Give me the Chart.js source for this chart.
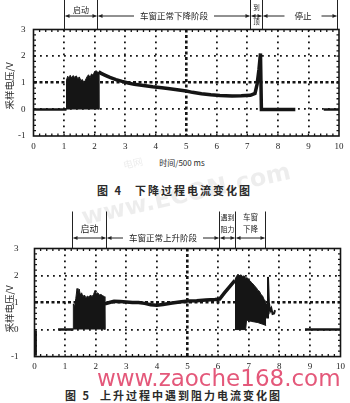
<!DOCTYPE html>
<html>
<head>
<meta charset="utf-8">
<script src="https://cdn.jsdelivr.net/npm/chart.js@4.4.1/dist/chart.umd.min.js"></script>
<style>
  body { margin: 0; background: #fff; width: 350px; height: 403px; overflow: hidden; position: relative; }
  .box { position: absolute; left: 0; width: 350px; }
  #box4 { top: 0; height: 155px; }
  #box5 { top: 200px; height: 178px; }
  .txt { position: absolute; white-space: nowrap; color: #2a2a2a; font-family: "Noto Sans CJK SC", sans-serif; line-height: 1; }
  .ytitle { font-size: 9.5px; transform: translate(-50%, -50%) rotate(-90deg); }
  .cap { font-size: 11px; font-weight: bold; letter-spacing: 2px; transform: translateY(-50%); }
</style>
</head>
<body>
<div class="box" id="box4"><canvas id="fig4"></canvas></div>
<div class="box" id="box5"><canvas id="fig5"></canvas></div>

<div class="txt ytitle" style="left:10px; top:86px;">采样电压/V</div>
<div class="txt ytitle" style="left:10px; top:309px;">采样电压/V</div>
<div class="txt" style="left:182px; top:163px; font-size:8px; transform:translate(-50%,-50%);">时间/500 ms</div>
<div class="txt cap" style="left:97px; top:190px;">图 4</div>
<div class="txt cap" style="left:135px; top:190px;">下降过程电流变化图</div>
<div class="txt cap" style="left:65px; top:395px;">图 5</div>
<div class="txt cap" style="left:100px; top:395px;">上升过程中遇到阻力电流变化图</div>

<div class="txt" style="left:186px; top:194px; font-family:'DejaVu Sans'; font-size:24px; font-weight:bold; color:rgba(0,0,0,0.07); transform:translate(-50%,-50%) rotate(-12.6deg);">www.ECON.com</div>
<div class="txt" style="left:133px; top:163px; font-size:10px; color:rgba(0,0,0,0.08); transform:translate(-50%,-50%) rotate(-12.6deg);">电网</div>
<div class="txt" style="left:97px; top:386px; font-family:'DejaVu Sans'; font-size:23px; color:#e4587a; transform:translateY(-82%);">www.zaoche168.com</div>

<script>
// Axis ticks (same for both figures)
const xTickLabels = ['0', '1', '2', '3', '4', '5', '6', '7', '8', '9', '10'];
const yTickLabels = ['-1', '0', '1', '2', '3'];

// Fig 4: window going down - [time (x500 ms), voltage V]
const fig4Base = [[0, 0], [1.08, 0]];
const fig4Start = [[1.07, 0], [1.08, 1.1], [1.12, 1.25], [1.16, 1.15], [1.2, 1.28], [1.25, 1.18], [1.3, 1.27],
    [1.35, 1.2], [1.4, 1.26], [1.45, 1.15], [1.5, 1.22], [1.55, 1.08], [1.6, 1.12], [1.65, 1.0], [1.7, 1.1],
    [1.75, 1.22], [1.8, 1.3], [1.85, 1.2], [1.9, 1.33], [1.95, 1.28], [2.0, 1.42], [2.05, 1.45], [2.1, 1.4],
    [2.13, 1.38], [2.14, 0]];
const fig4Run = [[2.13, 1.42], [2.2, 1.36], [2.35, 1.28], [2.5, 1.2], [2.7, 1.12], [2.9, 1.05], [3.1, 0.99],
    [3.3, 0.94], [3.6, 0.9], [3.9, 0.85], [4.2, 0.81], [4.4, 0.78], [4.7, 0.74], [5.0, 0.69], [5.2, 0.64],
    [5.5, 0.59], [5.8, 0.55], [6.1, 0.52], [6.5, 0.5], [6.8, 0.51], [7.1, 0.53], [7.25, 0.6], [7.32, 0.95],
    [7.38, 1.5], [7.43, 2.1], [7.46, 0], [8.57, 0]];
const fig4Tail = [[9.5, 0], [10, 0]];
const fig4Bounds = [1.0, 2.07, 7.1, 7.48, 9.95];
const fig4Phases = [['启动'], ['车窗正常下降阶段'], ['到', '顶'], ['停止']];

// Fig 5: window going up, hits an obstacle
const fig5Dip = [[0.03, -0.97], [0.03, -0.05]];
const fig5Base = [[0.77, 0], [1.27, 0]];
const fig5Start = [[1.27, 0], [1.27, 0.95], [1.31, 0.85], [1.35, 1.15], [1.39, 1.52], [1.42, 1.3], [1.46, 1.5],
    [1.5, 1.28], [1.54, 1.36], [1.58, 1.22], [1.63, 1.28], [1.68, 1.18], [1.73, 1.24], [1.78, 1.2], [1.83, 1.28],
    [1.88, 1.22], [1.93, 1.3], [1.98, 1.45], [2.02, 1.32], [2.07, 1.36], [2.12, 1.28], [2.17, 1.3], [2.22, 1.26],
    [2.28, 1.22], [2.3, 0]];
const fig5Run = [[2.3, 0.95], [2.45, 1.0], [2.6, 1.05], [2.8, 1.04], [3.0, 1.02], [3.2, 1.0], [3.4, 1.0],
    [3.6, 0.97], [3.8, 0.92], [4.0, 0.9], [4.2, 0.93], [4.5, 0.98], [4.8, 1.03], [5.0, 1.06], [5.3, 1.07],
    [5.6, 1.09], [5.9, 1.11], [6.05, 1.13], [6.2, 1.35], [6.4, 1.62], [6.55, 1.82]];
const fig5JamLow = [[6.55, 0], [6.9, 0], [6.93, 0.35], [7.1, 0.3], [7.3, 0.26], [7.45, 0.2], [7.57, 0.15]];
const fig5JamHigh = [[6.55, 1.85], [6.6, 1.97], [6.65, 2.05], [6.7, 1.98], [6.75, 2.03], [6.8, 1.96], [6.85, 1.99],
    [6.9, 1.9], [6.95, 1.92], [7.0, 1.84], [7.05, 1.8], [7.1, 1.72], [7.15, 1.68], [7.2, 1.6], [7.25, 1.55],
    [7.3, 1.45], [7.35, 1.42], [7.4, 1.3], [7.45, 1.25], [7.5, 1.12], [7.55, 1.05], [7.57, 0.95]];
const fig5Drop = [[7.57, 0.95], [7.6, 0.45], [7.63, 1.95], [7.66, 1.0], [7.7, 0.68], [7.74, 0.78], [7.78, 0.58],
    [7.83, 0.6], [7.86, 0.72]];
const fig5Tail = [[8.84, 0], [10, 0]];
const fig5Bounds = [1.24, 2.34, 6.02, 6.54, 7.54];
const fig5Phases = [['启动'], ['车窗正常上升阶段'], ['遇到', '阻力'], ['车窗', '下降']];

const INK = '#151515';
const pts = arr => arr.map(([x, y]) => ({ x, y }));

function trace(arr, width) {
    return { data: pts(arr), borderColor: INK, borderWidth: width, pointRadius: 0, tension: 0, fill: false };
}
function block(arr, fillTo) {
    return { data: pts(arr), borderColor: INK, borderWidth: 1, backgroundColor: INK, pointRadius: 0, tension: 0, fill: fillTo };
}

function arrowHead(ctx, x, y, dir) {
    ctx.beginPath();
    ctx.moveTo(x, y);
    ctx.lineTo(x - dir * 4, y - 2);
    ctx.lineTo(x - dir * 4, y + 2);
    ctx.closePath();
    ctx.fill();
}
function arrowLine(ctx, x1, x2, y, headL, headR) {
    ctx.beginPath();
    ctx.moveTo(x1, y);
    ctx.lineTo(x2, y);
    ctx.stroke();
    if (headL) arrowHead(ctx, x1, y, -1);
    if (headR) arrowHead(ctx, x2, y, 1);
}

// phase markers above the plot
const phasePlugin = {
    id: 'phases',
    afterDraw(chart, args, o) {
        const { ctx, chartArea: area, scales: { x } } = chart;
        const px = o.bounds.map(v => Math.round(x.getPixelForValue(v)) + 0.5);
        ctx.save();
        ctx.strokeStyle = '#222';
        ctx.fillStyle = '#222';
        ctx.lineWidth = 1;
        px.forEach(p => {
            ctx.beginPath();
            ctx.moveTo(p, o.lineTop);
            ctx.lineTo(p, area.top);
            ctx.stroke();
        });
        ctx.textAlign = 'center';
        ctx.textBaseline = 'middle';
        o.labels.forEach((lines, i) => {
            const st = o.styles[i];
            const a = px[i] + 1, b = px[i + 1] - 1;
            const c = (a + b) / 2 + (st.dx || 0);
            ctx.font = st.size + 'px "Noto Sans CJK SC"';
            if (st.inline) {
                const w = ctx.measureText(lines[0]).width;
                ctx.fillText(lines[0], c, o.arrowY);
                arrowLine(ctx, a, c - w / 2 - st.gap, o.arrowY, true, false);
                arrowLine(ctx, c + w / 2 + st.gap, b, o.arrowY, false, true);
            } else {
                lines.forEach((t, k) => ctx.fillText(t, c, st.ys[k]));
                arrowLine(ctx, a, b, o.arrowY, true, true);
            }
        });
        ctx.restore();
    }
};

// oscilloscope frame with small ticks
const framePlugin = {
    id: 'frame',
    afterDatasetsDraw(chart) {
        const { ctx, chartArea: a, scales: { x, y } } = chart;
        ctx.save();
        ctx.strokeStyle = INK;
        ctx.lineWidth = 1.6;
        ctx.strokeRect(a.left, a.top, a.right - a.left, a.bottom - a.top);
        ctx.lineWidth = 1.3;
        ctx.beginPath();
        for (let i = 1; i < 50; i++) {
            const p = x.getPixelForValue(i / 5);
            ctx.moveTo(p, a.top); ctx.lineTo(p, a.top + 2.5);
            ctx.moveTo(p, a.bottom); ctx.lineTo(p, a.bottom - 2.5);
        }
        for (let i = 1; i < 20; i++) {
            const p = y.getPixelForValue(-1 + i / 5);
            ctx.moveTo(a.left, p); ctx.lineTo(a.left + 2.5, p);
            ctx.moveTo(a.right, p); ctx.lineTo(a.right - 2.5, p);
        }
        ctx.stroke();
        ctx.restore();
    }
};

function buildChart(id, datasets, lay, phases) {
    const tickFont = { family: 'Liberation Serif', size: 9 };
    return new Chart(document.getElementById(id), {
        type: 'line',
        data: { datasets },
        plugins: [phasePlugin, framePlugin],
        options: {
            responsive: true,
            maintainAspectRatio: false,
            animation: false,
            layout: { padding: { top: lay.top, right: lay.right, left: 0, bottom: 0 } },
            plugins: { legend: { display: false }, tooltip: { enabled: false }, phases },
            scales: {
                x: {
                    type: 'linear', min: 0, max: 10,
                    afterFit: s => { s.height = 19; },
                    ticks: { stepSize: 1, padding: 5, color: '#222', font: tickFont, maxRotation: 0,
                        callback: (v, i) => xTickLabels[i] },
                    grid: { drawTicks: false,
                        color: c => (c.tick.value === 0 || c.tick.value === 10) ? 'rgba(0,0,0,0)' : INK,
                        lineWidth: c => c.tick.value === 5 ? 2.6 : 1.8 },
                    border: { display: false,
                        dash: c => (c.tick && c.tick.value === 5) ? [3, 2.5] : [1.8, 4.2] }
                },
                y: {
                    min: -1, max: 3,
                    afterFit: s => { s.width = lay.yWidth; },
                    ticks: { stepSize: 1, padding: lay.yPad, color: '#222', font: tickFont,
                        callback: (v, i) => yTickLabels[i] },
                    grid: { drawTicks: false,
                        color: c => (c.tick.value === -1 || c.tick.value === 3) ? 'rgba(0,0,0,0)' : INK,
                        lineWidth: c => c.tick.value === 1 ? 2.6 : 1.8 },
                    border: { display: false,
                        dash: c => (c.tick && c.tick.value === 1) ? [3, 2.5] : [1.8, 4.2] }
                }
            }
        }
    });
}

buildChart('fig4', [
    block(fig4Start, 'origin'),
    trace(fig4Base, 2.5),
    trace(fig4Run, 3.5),
    trace(fig4Tail, 2.5)
], { top: 29.5, right: 11, yWidth: 33.5, yPad: 8 }, {
    bounds: fig4Bounds, labels: fig4Phases, lineTop: 0, arrowY: 16,
    styles: [
        { size: 8, ys: [10] },
        { size: 8.5, inline: true, gap: 6 },
        { size: 6.5, ys: [8, 22] },
        { size: 8.5, inline: true, gap: 10, dx: 3 }
    ]
});

buildChart('fig5', [
    block(fig5Start, 'origin'),
    trace(fig5Dip, 3),
    trace(fig5Base, 2.5),
    trace(fig5Run, 3.5),
    block(fig5JamLow, false),
    block(fig5JamHigh, '-1'),
    trace(fig5Drop, 2),
    trace(fig5Tail, 2.5)
], { top: 48.5, right: 9, yWidth: 34.5, yPad: 16 }, {
    bounds: fig5Bounds, labels: fig5Phases, lineTop: 11.5, arrowY: 38,
    styles: [
        { size: 9, ys: [29] },
        { size: 8.5, inline: true, gap: 6 },
        { size: 7, ys: [17, 29] },
        { size: 7.5, ys: [17, 29] }
    ]
});
</script>
</body>
</html>
